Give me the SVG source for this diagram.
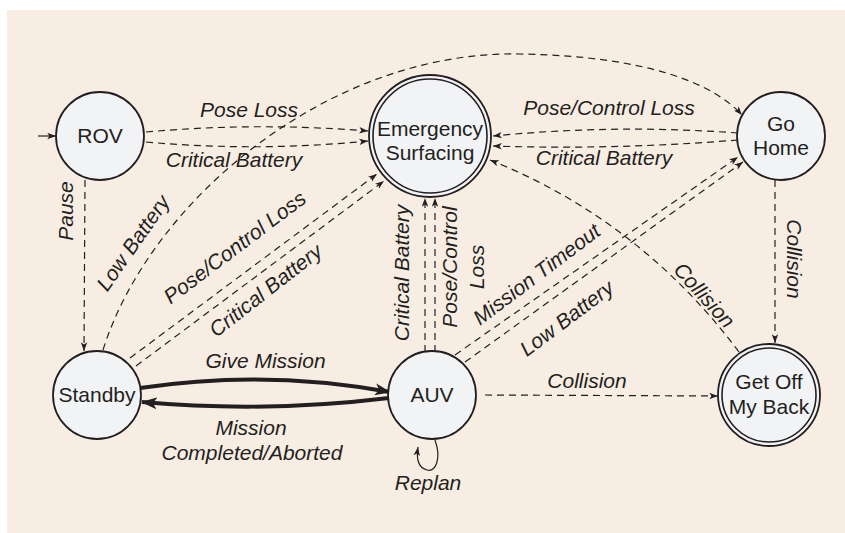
<svg xmlns="http://www.w3.org/2000/svg" width="845" height="533" viewBox="0 0 845 533">
<style>
.node{fill:#f2f3f5;stroke:#231f20;stroke-width:1.8}
.dbl{fill:none;stroke:#231f20;stroke-width:1.6}
.nl{font-family:"Liberation Sans",Arial,sans-serif;font-size:21px;fill:#231f20;text-anchor:middle}
.el{font-family:"Liberation Sans",Arial,sans-serif;font-size:21px;font-style:italic;fill:#231f20;text-anchor:middle}
.d{fill:none;stroke:#231f20;stroke-width:1.2;stroke-dasharray:7,5;marker-end:url(#a)}
.s{fill:none;stroke:#231f20;stroke-width:1.2;marker-end:url(#a)}
.t{fill:none;stroke:#231f20;stroke-width:4;marker-end:url(#b)}
</style>
<defs>
<marker id="a" viewBox="0 0 10 8" refX="10" refY="4" markerWidth="9" markerHeight="7" markerUnits="userSpaceOnUse" orient="auto"><path d="M0,0.3 L10,4 L0,7.7 L2.5,4 z" fill="#231f20"/></marker>
<marker id="b" viewBox="0 0 16 12" refX="15" refY="6" markerWidth="16" markerHeight="12" markerUnits="userSpaceOnUse" orient="auto"><path d="M0,0 L16,6 L0,12 L4,6 z" fill="#231f20"/></marker>
</defs>
<rect x="7" y="10" width="838" height="523" fill="#f8ede3"/>
<g id="connectors">
<path class="s" d="M38,136 L56,136"/>
<path class="d" d="M146,132 Q257,122 368,131"/>
<path class="d" d="M146,142 Q257,152 368,141"/>
<path class="d" d="M738,133 Q615,124 493,136"/>
<path class="d" d="M738,140 Q615,150 493,146"/>
<path class="d" d="M85,180 L84,351"/>
<path class="d" d="M103,350 C150,200 330,50 520,54 C650,56 715,85 742,115"/>
<path class="d" d="M130,358 L377,174"/>
<path class="d" d="M136,366 L384,181"/>
<path class="d" d="M425,352 L425,198"/>
<path class="d" d="M435,352 L435,198"/>
<path class="d" d="M455,355 L738,157"/>
<path class="d" d="M465,362 L743,162"/>
<path class="d" d="M739,352 Q640,220 490,160"/>
<path class="d" d="M775,180 L775,343"/>
<path class="d" d="M485,395 L718,396"/>
<path class="t" d="M140,388 Q265,369 390,392"/>
<path class="t" d="M389,398 Q265,413 142,402"/>
<path class="s" d="M435,440 C442,460 435,472 427,470 C419,468 416,460 418,447"/>
</g>
<g id="labels">
<text class="el" x="249" y="117">Pose Loss</text>
<text class="el" x="234" y="167">Critical Battery</text>
<text class="el" x="609" y="115">Pose/Control Loss</text>
<text class="el" x="604" y="165">Critical Battery</text>
<text class="el" transform="translate(73,211) rotate(-90)">Pause</text>
<text class="el" transform="translate(139,247) rotate(-55)">Low Battery</text>
<text class="el" transform="translate(239,253) rotate(-37)">Pose/Control Loss</text>
<text class="el" transform="translate(270,296) rotate(-38)">Critical Battery</text>
<text class="el" transform="translate(409,273) rotate(-90)">Critical Battery</text>
<text class="el" transform="translate(457,267) rotate(-90)">Pose/Control</text>
<text class="el" transform="translate(484,267) rotate(-90)">Loss</text>
<text class="el" transform="translate(541,280) rotate(-37)">Mission Timeout</text>
<text class="el" transform="translate(571,324) rotate(-37)">Low Battery</text>
<text class="el" transform="translate(699,300) rotate(48)">Collision</text>
<text class="el" transform="translate(787,259) rotate(90)">Collision</text>
<text class="el" x="265.5" y="368">Give Mission</text>
<text class="el" x="251" y="435">Mission</text>
<text class="el" x="252" y="460">Completed/Aborted</text>
<text class="el" x="587" y="388">Collision</text>
<text class="el" x="428" y="490">Replan</text>
</g>
<g id="rov"><circle class="node" cx="100" cy="136" r="44"/><text class="nl" x="100" y="143">ROV</text></g>
<g id="emergency"><circle class="node" cx="430" cy="136" r="61" stroke-width="1.6"/><circle class="dbl" cx="430" cy="136" r="57"/><text class="nl" x="430" y="136">Emergency</text><text class="nl" x="430" y="160">Surfacing</text></g>
<g id="gohome"><circle class="node" cx="781" cy="136" r="44"/><text class="nl" x="781" y="131">Go</text><text class="nl" x="781" y="155">Home</text></g>
<g id="standby"><circle class="node" cx="97" cy="395" r="44"/><text class="nl" x="97" y="402">Standby</text></g>
<g id="auv"><circle class="node" cx="432" cy="395" r="44"/><text class="nl" x="432" y="402">AUV</text></g>
<g id="getoff"><circle class="node" cx="769" cy="395" r="51" stroke-width="1.6"/><circle class="dbl" cx="769" cy="395" r="47"/><text class="nl" x="769" y="389">Get Off</text><text class="nl" x="769" y="414">My Back</text></g>
</svg>
